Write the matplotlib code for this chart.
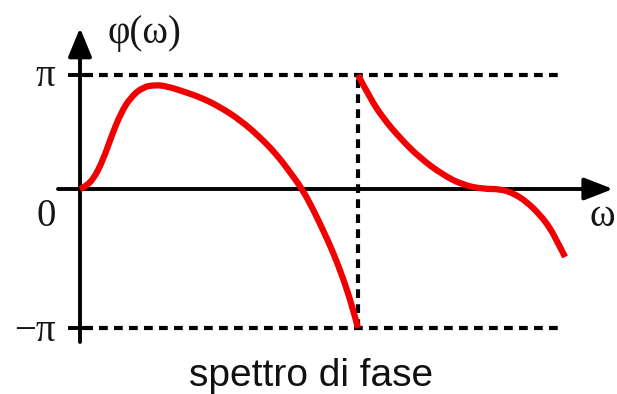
import numpy as np
import matplotlib.pyplot as plt
from matplotlib.path import Path
from matplotlib.patches import PathPatch

# phase spectrum, omega in arbitrary units (jump at omega = 1), phase in units of pi
omega_a = [0.0, 0.011, 0.047, 0.083, 0.112, 0.147, 0.183, 0.227, 0.270, 0.309,
           0.378, 0.439, 0.504, 0.576, 0.647, 0.709, 0.755, 0.799, 0.838, 0.874,
           0.910, 0.946, 0.978, 1.0]
phase_a = [0.0, 0.009, 0.079, 0.254, 0.456, 0.667, 0.807, 0.895, 0.912, 0.904,
           0.851, 0.798, 0.719, 0.605, 0.456, 0.298, 0.149, 0.0, -0.144, -0.295,
           -0.453, -0.640, -0.835, -1.0]

omega_b = [1.0, 1.043, 1.090, 1.151, 1.223, 1.306, 1.378, 1.450, 1.511, 1.558,
           1.608, 1.655, 1.691, 1.719, 1.745]
phase_b = [1.0, 0.798, 0.623, 0.447, 0.272, 0.123, 0.035, 0.0, 0.0, -0.029,
           -0.094, -0.187, -0.281, -0.388, -0.489]

omega_jump = 1.0
omega_end = 1.734

W, H = 617, 394
fig = plt.figure(figsize=(W / 100, H / 100), dpi=100)
ax = fig.add_axes([0, 0, 1, 1])

# the negative half of the phase axis is drawn a bit taller than the positive half
UP, DOWN = 114.0, 139.0


def fwd(y):
    y = np.asarray(y, dtype=float) / np.pi
    return np.where(y >= 0, y * UP, y * DOWN)


def inv(v):
    v = np.asarray(v, dtype=float)
    return np.where(v >= 0, v / UP, v / DOWN) * np.pi


ax.set_yscale('function', functions=(fwd, inv))
ax.set_xlim(-80 / 278, 537 / 278)
ax.set_ylim(inv(-205.0), inv(189.0))
ax.axis('off')


def smooth_path(xs, ys):
    # quadratic bezier pieces: each read point is a control point,
    # the curve runs through the midpoints between them
    pts = np.column_stack([xs, ys])
    verts = [pts[0]]
    codes = [Path.MOVETO]
    for i in range(1, len(pts) - 1):
        mid = (pts[i] + pts[i + 1]) / 2
        if i == len(pts) - 2:
            mid = pts[i + 1]
        verts += [pts[i], mid]
        codes += [Path.CURVE3, Path.CURVE3]
    return Path(verts, codes)


red = '#f00000'
for om, ph in ((omega_a, phase_a), (omega_b, phase_b)):
    patch = PathPatch(smooth_path(om, np.pi * np.array(ph)), facecolor='none',
                      edgecolor=red, lw=4.5, capstyle='butt',
                      joinstyle='round', zorder=4)
    ax.add_patch(patch)

# dashed limits at +pi and -pi, and dotted line at the jump
dash = dict(color='black', lw=3.0, dashes=(2.1, 1.5), zorder=2)
ax.plot([0.015, omega_end], [np.pi, np.pi], **dash)
ax.plot([0.015, omega_end], [-np.pi, -np.pi], **dash)
ax.plot([omega_jump, omega_jump], [-np.pi, np.pi], **dash)

# tick marks on the phase axis
for y in (np.pi, -np.pi):
    ax.plot([-0.036, 0.04], [y, y], color='black', lw=2.8, zorder=3)

# axes with arrows
ax.annotate('', xy=(0, inv(161.0)), xytext=(0, inv(-153.0)),
            arrowprops=dict(arrowstyle='-|>,head_length=1.75,head_width=0.72',
                            mutation_scale=10, lw=2.8, color='black',
                            shrinkA=0, shrinkB=0), zorder=3)
ax.annotate('', xy=(533 / 278, 0), xytext=(-22 / 278, 0),
            arrowprops=dict(arrowstyle='-|>,head_length=1.75,head_width=0.68',
                            mutation_scale=10, lw=2.8, color='black',
                            shrinkA=0, shrinkB=0), zorder=3)

serif = dict(family='Liberation Serif', size=28, color='#161616')


def px(x, y):
    return x / W, 1 - y / H


fig.text(*px(144, 43), 'φ(ω)', ha='center', va='baseline', **serif)
fig.text(*px(45, 86), 'π', ha='center', va='baseline', **serif)
fig.text(*px(46, 226), '0', ha='center', va='baseline', **serif)
fig.text(*px(35, 341), '−π', ha='center', va='baseline', **serif)
fig.text(*px(602, 226), 'ω', ha='center', va='baseline', **serif)
fig.text(*px(311, 386), 'spettro di fase', ha='center', va='baseline',
         family='Liberation Sans', size=28, color='#111111')

fig.savefig('out.png', dpi=100)
